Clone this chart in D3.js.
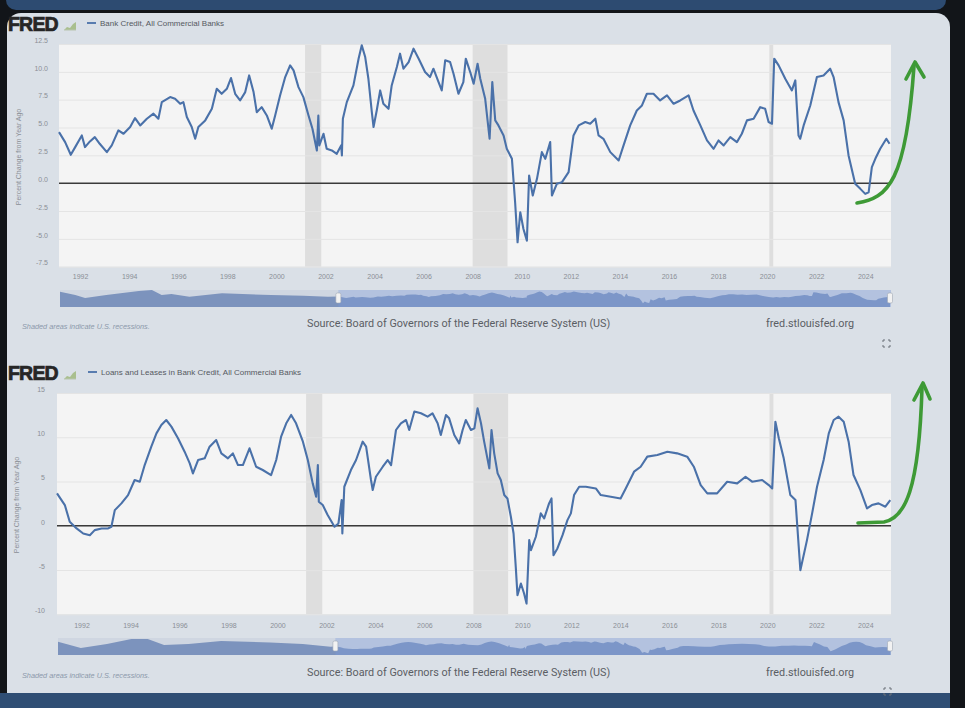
<!DOCTYPE html>
<html><head><meta charset="utf-8">
<script src="https://cdn.jsdelivr.net/npm/d3@7"></script>
<style>body{margin:0;background:#121519;}svg{display:block}</style>
</head><body><svg id="c" width="965" height="708"></svg>
<script>
// ---------- DATA ----------
const xTickYears = [1992,1994,1996,1998,2000,2002,2004,2006,2008,2010,2012,2014,2016,2018,2020,2022,2024];
const recessionStarts = [2001.17, 2008.0, 2020.09];
const recessionEnds   = [2001.83, 2009.42, 2020.25];

const bankTitle = "Bank Credit, All Commercial Banks";
const bankYTicks = [-7.5,-5,-2.5,0,2.5,5,7.5,10,12.5];
const bankYTickLabels = ["-7.5","-5.0","-2.5","0.0","2.5","5.0","7.5","10.0","12.5"];
const bankYears = [1991.14,1991.39,1991.62,1991.8,1992.07,1992.2,1992.4,1992.6,1992.8,1993.09,1993.29,1993.56,1993.77,1994.04,1994.24,1994.45,1994.72,1994.99,1995.19,1995.33,1995.67,1995.87,1996.08,1996.21,1996.35,1996.55,1996.69,1996.82,1997.1,1997.37,1997.57,1997.77,1997.98,1998.15,1998.32,1998.52,1998.73,1998.89,1999.07,1999.2,1999.4,1999.61,1999.81,1999.95,2000.15,2000.36,2000.56,2000.7,2000.9,2001.1,2001.31,2001.47,2001.65,2001.71,2001.75,2001.92,2002.05,2002.26,2002.46,2002.64,2002.67,2002.71,2002.87,2003.14,2003.35,2003.48,2003.62,2003.75,2003.89,2003.96,2004.09,2004.23,2004.36,2004.57,2004.7,2004.91,2005.04,2005.18,2005.39,2005.59,2005.8,2006.06,2006.26,2006.4,2006.61,2006.74,2006.88,2007.08,2007.22,2007.42,2007.62,2007.72,
2007.9,2008.04,2008.2,2008.31,2008.51,2008.69,2008.8,2008.92,2009.05,2009.26,2009.39,2009.6,2009.73,2009.83,2009.94,2010.07,2010.21,2010.3,2010.45,2010.62,2010.82,2010.96,2011.16,2011.23,2011.43,2011.64,2011.91,2012.11,2012.32,2012.59,2012.79,2013.0,2013.13,2013.33,2013.61,2013.95,2014.15,2014.42,2014.69,2014.9,2015.1,2015.37,2015.64,2015.92,2016.19,2016.46,2016.8,2017.0,2017.28,2017.55,2017.82,2018.02,2018.23,2018.5,2018.77,2018.97,2019.18,2019.45,2019.72,2019.92,2020.06,2020.2,2020.29,2020.47,2020.74,2021.01,2021.15,2021.28,2021.35,2021.49,2021.76,2022.03,2022.3,2022.57,2022.71,2022.91,2023.12,2023.32,2023.59,2023.8,2024.0,2024.14,2024.27,2024.41,2024.61,2024.86,2024.99];
const bankValues = [4.59,3.69,2.55,3.24,4.29,3.24,3.75,4.14,3.54,2.79,3.39,4.74,4.44,5.04,5.85,5.19,5.79,6.24,5.79,7.28,7.73,7.58,7.13,7.28,5.94,5.04,3.99,5.04,5.64,6.68,8.48,8.03,8.48,9.44,8.03,7.43,8.18,9.68,8.18,6.38,6.83,6.08,4.89,6.08,7.88,9.53,10.58,10.13,8.63,7.73,6.08,4.89,2.94,6.08,3.39,4.44,3.09,2.94,2.64,3.39,2.49,5.79,7.28,8.78,11.18,12.38,11.33,9.38,6.38,5.04,6.53,8.33,7.13,6.68,8.78,10.43,11.63,10.28,10.88,12.08,11.18,9.98,9.53,10.28,9.08,8.33,11.03,10.88,9.83,8.03,9.08,11.18,
9.98,8.93,10.73,9.38,7.58,3.99,9.08,5.64,5.19,4.29,3.09,2.19,-1.71,-5.31,-2.61,-4.11,-5.16,0.69,-1.11,0.39,2.79,2.19,3.69,-1.11,-0.06,0.09,0.99,4.29,5.19,5.49,5.34,5.79,4.29,3.99,2.79,2.04,3.39,5.19,6.53,6.98,8.03,8.03,7.43,7.88,7.13,7.43,7.88,6.53,5.19,3.84,3.09,3.84,3.39,4.14,3.69,4.44,5.64,5.79,6.83,6.68,5.49,5.34,11.18,10.58,9.38,8.33,9.23,4.29,3.99,5.19,6.98,9.53,9.68,10.28,9.53,7.28,5.64,2.49,-0.06,-0.51,-0.96,-0.81,1.44,2.19,3.09,3.99,3.54];
// navigator: earlier history (1974-1991)
const bankNavYears  = [1974.06,1975.0,1975.6,1976.9,1978.9,1979.7,1980.3,1980.9,1982.0,1984.0,1987.0,1989.0,1990.5];
const bankNavValues = [12,7,2.5,7,13,14.5,7,8.5,4.5,9.5,7,6,4.5];

const loanTitle = "Loans and Leases in Bank Credit, All Commercial Banks";
const loanYTicks = [-10,-5,0,5,10,15];
const loanYTickLabels = ["-10","-5","0","5","10","15"];
const loanYears = [1991.0,1991.32,1991.52,1991.8,1992.07,1992.34,1992.54,1992.82,1993.09,1993.22,1993.36,1993.63,1993.9,1994.17,1994.38,1994.58,1994.85,1995.06,1995.26,1995.46,1995.67,1995.94,1996.21,1996.42,1996.55,1996.76,1997.03,1997.23,1997.5,1997.71,1997.98,1998.18,1998.39,1998.59,1998.86,1999.13,1999.4,1999.74,1999.95,2000.15,2000.36,2000.56,2000.76,2001.04,2001.24,2001.44,2001.58,2001.65,2001.69,2001.85,2002.05,2002.33,2002.49,2002.62,2002.65,2002.73,2003.0,2003.21,2003.48,2003.62,2003.82,2003.89,2004.02,2004.3,2004.5,2004.64,2004.84,2005.04,2005.25,2005.38,2005.59,2005.86,2006.13,2006.33,2006.54,2006.67,2006.88,2007.01,2007.22,2007.42,2007.56,2007.69,
2007.9,2008.04,2008.17,2008.31,2008.44,2008.65,2008.74,2008.85,2008.99,2009.12,2009.26,2009.39,2009.53,2009.64,2009.73,2009.8,2009.94,2010.07,2010.17,2010.28,2010.35,2010.55,2010.75,2010.89,2011.09,2011.19,2011.27,2011.43,2011.64,2011.84,2011.98,2012.11,2012.32,2012.59,2013.0,2013.2,2013.61,2014.01,2014.22,2014.56,2014.83,2015.1,2015.51,2015.92,2016.32,2016.73,2017.0,2017.28,2017.55,2017.95,2018.36,2018.77,2019.11,2019.38,2019.79,2020.06,2020.2,2020.33,2020.47,2020.67,2020.94,2021.15,2021.35,2021.62,2021.83,2022.03,2022.3,2022.51,2022.71,2022.91,2023.12,2023.32,2023.52,2023.8,2024.07,2024.27,2024.54,2024.82,2025.02];
const loanValues = [3.66,2.34,0.45,-0.3,-0.87,-1.06,-0.49,-0.3,-0.3,-0.11,1.77,2.53,3.47,5.17,4.98,6.86,8.94,10.44,11.39,11.95,11.2,9.88,8.37,7.05,5.92,7.43,7.62,8.94,9.69,8.18,7.62,8.18,6.86,6.86,8.75,6.67,6.3,5.73,7.43,10.07,11.58,12.52,11.58,9.5,7.43,4.79,3.28,6.86,2.71,2.34,1.21,-0.11,0.26,2.9,-0.87,4.41,6.3,7.43,9.5,8.94,5.17,4.04,5.54,6.67,7.43,6.86,10.82,11.58,11.95,10.82,12.9,12.71,12.33,12.71,11.58,10.26,12.52,12.14,10.26,9.31,10.82,11.95,
10.82,11.0,13.27,11.58,9.5,6.49,10.82,8.18,5.92,5.17,3.47,3.09,1.02,-0.87,-4.64,-7.84,-6.52,-7.65,-8.79,-1.62,-2.75,-1.24,1.4,0.83,2.53,3.09,-3.32,-2.56,-1.06,0.64,1.4,3.47,4.41,4.41,4.22,3.47,3.28,3.09,4.22,6.11,6.67,7.81,7.99,8.37,8.18,7.81,6.67,4.6,3.66,3.66,4.98,4.79,5.54,4.98,5.17,4.6,4.22,11.76,9.88,7.62,3.47,2.9,-5.02,-1.62,1.4,4.41,7.43,10.44,11.95,12.33,11.76,9.5,5.73,4.03,1.96,2.34,2.53,2.15,2.9];
const loanNavYears  = [1974.0,1975.4,1977.0,1978.5,1979.5,1980.5,1982.0,1984.0,1987.0,1989.0,1990.7];
const loanNavValues = [12.4,0.9,8,17.3,17.3,6.4,8,13.6,11,8,3.3];

// ---------- DRAW ----------
const svg = d3.select("#c");
svg.append("rect").attr("width",965).attr("height",708).attr("fill","#121519");
svg.append("rect").attr("x",6).attr("y",-20).attr("width",940).attr("height",30).attr("rx",10).attr("fill","#2d4b71");
svg.append("rect").attr("x",7).attr("y",13).attr("width",943).attr("height",720).attr("rx",14).attr("fill","#dae0e7");
svg.append("rect").attr("x",0).attr("y",693).attr("width",950).attr("height",15).attr("fill","#2f4e74");

function drawChart(o){
  const g = svg.append("g");
  const x = d3.scaleLinear().domain(o.xDomain).range([o.left,o.right]);
  const y = d3.scaleLinear().domain(o.yDomain).range([o.bottom,o.top]);
  g.append("rect").attr("x",o.left).attr("y",o.top).attr("width",o.right-o.left).attr("height",o.bottom-o.top).attr("fill","#f4f4f4");
  g.selectAll(".rec").data(recessionStarts).join("rect")
    .attr("x",(d)=>x(d)).attr("y",o.top)
    .attr("width",(d,i)=>x(recessionEnds[i])-x(d)).attr("height",o.bottom-o.top)
    .attr("fill","#dedede");
  const grid = g.append("g").attr("transform",`translate(${o.left},0)`)
    .call(d3.axisLeft(y).tickValues(o.yTicks).tickSize(-(o.right-o.left)).tickFormat(""));
  grid.select(".domain").remove();
  grid.selectAll("line").attr("stroke","#e4e4e4").attr("stroke-width",1);
  const ya = g.append("g").attr("transform",`translate(${o.labelX},-4)`)
    .call(d3.axisLeft(y).tickValues(o.yTicks).tickSize(0).tickPadding(0).tickFormat((d,i)=>o.yLabels[i]));
  ya.select(".domain").remove();
  ya.selectAll("text").attr("fill","#8a8f96").style("font","7px 'Liberation Sans', Arial, sans-serif");
  const xa = g.append("g").attr("transform",`translate(0,${o.xLabelY})`)
    .call(d3.axisBottom(x).tickValues(xTickYears).tickSize(0).tickPadding(0).tickFormat(d3.format("d")));
  xa.select(".domain").remove();
  xa.selectAll("text").attr("fill","#8a8f96").style("font","7px 'Liberation Sans', Arial, sans-serif");
  g.append("line").attr("x1",o.left).attr("x2",o.right).attr("y1",y(0)).attr("y2",y(0))
    .attr("stroke","#3a3a3a").attr("stroke-width",1.6);
  const pts = o.years.map((d,i)=>[d,o.values[i]]);
  g.append("path").datum(pts)
    .attr("d",d3.line().x(d=>x(d[0])).y(d=>y(d[1])))
    .attr("fill","none").attr("stroke","#4a71a9").attr("stroke-width",2.1).attr("stroke-linejoin","round");
  g.append("text").attr("transform",`translate(${o.titleX},${o.titleY}) rotate(-90)`)
    .attr("text-anchor","middle").attr("fill","#8a8f96")
    .style("font","7px 'Liberation Sans', Arial, sans-serif").text("Percent Change from Year Ago");
  g.append("text").attr("x",8).attr("y",o.logoY).attr("fill","#262626").attr("stroke","#262626").attr("stroke-width",0.7)
    .style("font","bold 19.5px 'Liberation Sans', Arial, sans-serif").style("letter-spacing","-0.8px").text("FRED");
  const ic = g.append("g").attr("transform",`translate(64,${o.logoY-11})`);
  ic.append("path").attr("d","M0,10 L3,7 L6,8 L9,4 L12,2 L12,10 Z").attr("fill","#a9bf8e");
  ic.append("path").attr("d","M0,10 L12,10").attr("stroke","#b8c4b0").attr("stroke-width",1);
  g.append("line").attr("x1",o.legX).attr("x2",o.legX+9).attr("y1",o.legY).attr("y2",o.legY)
    .attr("stroke","#4a71a9").attr("stroke-width",1.8);
  g.append("text").attr("x",o.legX+13).attr("y",o.legY+2.8).attr("fill","#55595f")
    .style("font","8px 'Liberation Sans', Arial, sans-serif").text(o.title);
  const nx = d3.scaleLinear().domain(o.navXDomain).range([o.left+1,o.right]);
  const ny = d3.scaleLinear().domain(o.navYDomain).range([o.navBottom,o.navTop]);
  const navPts = o.navYears.map((d,i)=>[d,o.navValues[i]]).concat(pts);
  g.append("rect").attr("x",o.left+1).attr("y",o.navTop).attr("width",o.right-o.left-1).attr("height",o.navBottom-o.navTop)
    .attr("fill","#cfd6e1");
  g.append("path").datum(navPts)
    .attr("d",d3.area().x(d=>nx(d[0])).y0(o.navBottom).y1(d=>ny(d[1])))
    .attr("fill","#7c93bd");
  g.append("rect").attr("x",nx(o.xDomain[0])).attr("y",o.navTop).attr("width",o.right-nx(o.xDomain[0])).attr("height",o.navBottom-o.navTop)
    .attr("fill","#7d9ddc").attr("opacity",0.35);
  [nx(o.xDomain[0]),o.right-1].forEach(hx=>{
    g.append("rect").attr("x",hx-2.5).attr("y",o.navTop+3).attr("width",5).attr("height",10).attr("rx",1.5)
      .attr("fill","#f2f2f2").attr("stroke","#a0a8b4").attr("stroke-width",0.6);
  });
  g.append("text").attr("x",22).attr("y",o.footY+2).attr("fill","#8c99ab")
    .style("font","italic 7.3px 'Liberation Sans', Arial, sans-serif").text("Shaded areas indicate U.S. recessions.");
  g.append("text").attr("x",307).attr("y",o.footY).attr("fill","#5a5e64")
    .style("font","10.8px Roboto, 'Liberation Sans', sans-serif").text("Source: Board of Governors of the Federal Reserve System (US)");
  g.append("text").attr("x",766).attr("y",o.footY).attr("fill","#5a5e64")
    .style("font","10.8px Roboto, 'Liberation Sans', sans-serif").text("fred.stlouisfed.org");
  const e = g.append("g").attr("transform",`translate(${o.iconX},${o.iconY})`).attr("stroke","#6b7078").attr("stroke-width",1).attr("fill","none");
  e.append("path").attr("d","M0,2 V0 H2 M5,0 H7 V2 M7,5 V7 H5 M2,7 H0 V5");
  return {x,y};
}

drawChart({
  xDomain:[1991.14,2025.05], left:59, right:891, top:44, bottom:266.7,
  yDomain:[-7.5,12.5], yTicks:bankYTicks, yLabels:bankYTickLabels,
  labelX:48, xLabelY:274, titleX:21, titleY:157,
  years:bankYears, values:bankValues, title:bankTitle,
  logoY:31, legX:87, legY:23,
  navXDomain:[1974.06,2025.05], navYDomain:[-11,14.5], navTop:290, navBottom:307,
  navYears:bankNavYears, navValues:bankNavValues,
  footY:327, iconX:883, iconY:340
});
drawChart({
  xDomain:[1991.0,2025.05], left:57, right:891, top:393, bottom:614.3,
  yDomain:[-10,15], yTicks:loanYTicks, yLabels:loanYTickLabels,
  labelX:45, xLabelY:623, titleX:19, titleY:505,
  years:loanYears, values:loanValues, title:loanTitle,
  logoY:380, legX:88, legY:372,
  navXDomain:[1974.0,2025.05], navYDomain:[-11.8,19], navTop:638, navBottom:655,
  navYears:loanNavYears, navValues:loanNavValues,
  footY:675.5, iconX:884, iconY:688
});

const arrows = svg.append("g").attr("fill","none").attr("stroke","#3e9a36").attr("stroke-width",3.6)
  .attr("stroke-linecap","round").attr("stroke-linejoin","round");
arrows.append("path").attr("d","M857,203 C888,198 906,182 914,66");
arrows.append("path").attr("d","M906,79 L915,62 L924,77");
arrows.append("path").attr("d","M858,523 L884,522 C905,518 919,490 922,388");
arrows.append("path").attr("d","M914,400 L923,383 L930,399");
</script>
</body></html>
